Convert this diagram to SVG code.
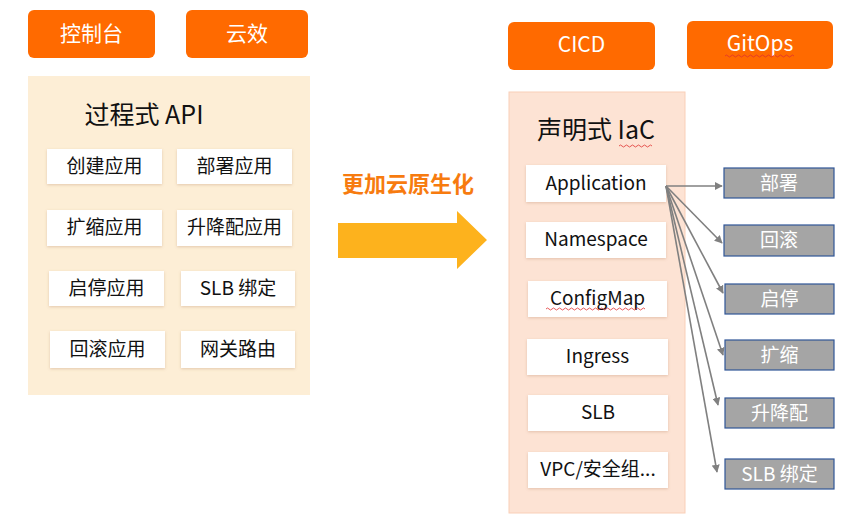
<svg xmlns="http://www.w3.org/2000/svg" width="866" height="522" viewBox="0 0 866 522">
<style>
text{font-family:"Noto Sans CJK SC","Noto Sans",sans-serif;text-anchor:middle}
.btn{fill:#ff6a00}
.btnt{fill:#fff;font-size:21px}
.box{fill:#fff;filter:url(#sh)}
.boxt{fill:#111;font-size:19px}
.gbox{fill:#a5a5a5;stroke:#2f5597;stroke-width:1.2}
.gt{fill:#fff;font-size:19px}
.title{fill:#111;font-size:25px}
.conn{stroke:#808080;stroke-width:1.6;fill:none;marker-end:url(#ah)}
.wave{stroke:#e03030;stroke-width:0.8;fill:none}
</style>
<defs>
<filter id="sh" x="-10%" y="-20%" width="120%" height="140%">
<feDropShadow dx="0" dy="1" stdDeviation="1.5" flood-color="#b08060" flood-opacity="0.35"/>
</filter>
<marker id="ah" viewBox="0 0 10 10" refX="9" refY="5" markerWidth="5" markerHeight="5" orient="auto" markerUnits="strokeWidth">
<path d="M0,0 L10,5 L0,10 z" fill="#808080"/>
</marker>
</defs>

<g id="btn-console"><rect class="btn" x="28" y="10" width="127" height="48" rx="6"/><text class="btnt" x="91.5" y="41">控制台</text></g>
<g id="btn-yunxiao"><rect class="btn" x="186" y="10" width="122" height="48" rx="6"/><text class="btnt" x="247" y="41">云效</text></g>

<g id="panel-api">
<rect x="28" y="76" width="282" height="319" fill="#fdeed6"/>
<text class="title" x="144" y="124">过程式 API</text>
</g>
<g id="n-create"><rect class="box" x="47" y="149" width="115" height="35"/><text class="boxt" x="104.5" y="173">创建应用</text></g>
<g id="n-deploy"><rect class="box" x="177" y="149" width="115" height="35"/><text class="boxt" x="234.5" y="173">部署应用</text></g>
<g id="n-scale"><rect class="box" x="47" y="210" width="115" height="36"/><text class="boxt" x="104.5" y="234">扩缩应用</text></g>
<g id="n-resize"><rect class="box" x="177" y="210" width="115" height="36"/><text class="boxt" x="234.5" y="234">升降配应用</text></g>
<g id="n-startstop"><rect class="box" x="49" y="271" width="115" height="35"/><text class="boxt" x="106.5" y="295">启停应用</text></g>
<g id="n-slb"><rect class="box" x="181" y="271" width="114" height="35"/><text class="boxt" x="238" y="295">SLB 绑定</text></g>
<g id="n-rollback"><rect class="box" x="50" y="331" width="115" height="37"/><text class="boxt" x="107.5" y="356">回滚应用</text></g>
<g id="n-gateway"><rect class="box" x="181" y="331" width="114" height="37"/><text class="boxt" x="238" y="356">网关路由</text></g>

<g id="big-arrow">
<text x="408" y="192" font-size="22" font-weight="bold" fill="#f77b0f">更加云原生化</text>
<path d="M338,223 H457 V211 L487,240 L457,269 V258 H338 Z" fill="#fdb21d"/>
</g>

<g id="btn-cicd"><rect class="btn" x="508" y="22" width="147" height="48" rx="6"/><text class="btnt" x="581.5" y="52">CICD</text></g>
<g id="btn-gitops"><rect class="btn" x="687" y="21" width="146" height="48" rx="6"/><text class="btnt" x="760" y="51">GitOps</text>
<path class="wave" d="M725,56 q1.5,-2 3,0 t3,0 t3,0 t3,0 t3,0 t3,0 t3,0 t3,0 t3,0 t3,0 t3,0 t3,0 t3,0 t3,0 t3,0 t3,0 t3,0 t3,0 t3,0 t3,0 t3,0 t3,0 t3,0"/></g>

<g id="panel-iac">
<rect x="509" y="92" width="176" height="421" fill="#fde3d4" stroke="#f9cfb8" stroke-width="1"/>
<text class="title" x="596" y="139">声明式 IaC</text>
<path class="wave" d="M619,146 q1.5,-2 3,0 t3,0 t3,0 t3,0 t3,0 t3,0 t3,0 t3,0 t3,0 t3,0 t3,0"/>
</g>
<g id="n-application"><rect class="box" x="526" y="165" width="140" height="37"/><text class="boxt" x="596" y="190">Application</text></g>
<g id="n-namespace"><rect class="box" x="526" y="222" width="140" height="36"/><text class="boxt" x="596" y="246">Namespace</text></g>
<g id="n-configmap"><rect class="box" x="528" y="281" width="139" height="36"/><text class="boxt" x="597.5" y="305">ConfigMap</text>
<path class="wave" d="M546,309 q1.5,-2 3,0 t3,0 t3,0 t3,0 t3,0 t3,0 t3,0 t3,0 t3,0 t3,0 t3,0 t3,0 t3,0 t3,0 t3,0 t3,0 t3,0 t3,0 t3,0 t3,0 t3,0 t3,0 t3,0 t3,0 t3,0 t3,0 t3,0 t3,0 t3,0 t3,0 t3,0 t3,0 t3,0"/></g>
<g id="n-ingress"><rect class="box" x="527" y="339" width="141" height="36"/><text class="boxt" x="597.5" y="363">Ingress</text></g>
<g id="n-slb2"><rect class="box" x="528" y="395" width="140" height="36"/><text class="boxt" x="598" y="419">SLB</text></g>
<g id="n-vpc"><rect class="box" x="528" y="452" width="140" height="36"/><text class="boxt" x="598" y="476">VPC/安全组...</text></g>

<g id="g-deploy"><rect class="gbox" x="724" y="168" width="110" height="30"/><text class="gt" x="779" y="190">部署</text></g>
<g id="g-rollback"><rect class="gbox" x="724" y="225" width="110" height="31"/><text class="gt" x="779" y="247">回滚</text></g>
<g id="g-startstop"><rect class="gbox" x="725" y="284" width="109" height="30"/><text class="gt" x="779.5" y="306">启停</text></g>
<g id="g-scale"><rect class="gbox" x="725" y="340" width="109" height="30"/><text class="gt" x="779.5" y="362">扩缩</text></g>
<g id="g-resize"><rect class="gbox" x="725" y="398" width="109" height="30"/><text class="gt" x="779.5" y="420">升降配</text></g>
<g id="g-slb"><rect class="gbox" x="725" y="459" width="109" height="30"/><text class="gt" x="779.5" y="481">SLB 绑定</text></g>

<g id="connectors">
<line class="conn" x1="666" y1="186" x2="722" y2="186"/>
<line class="conn" x1="666" y1="186" x2="722" y2="243"/>
<line class="conn" x1="666" y1="186" x2="723" y2="293"/>
<line class="conn" x1="666" y1="186" x2="723" y2="355"/>
<line class="conn" x1="666" y1="186" x2="718" y2="405"/>
<line class="conn" x1="666" y1="186" x2="717" y2="472"/>
</g>
</svg>
